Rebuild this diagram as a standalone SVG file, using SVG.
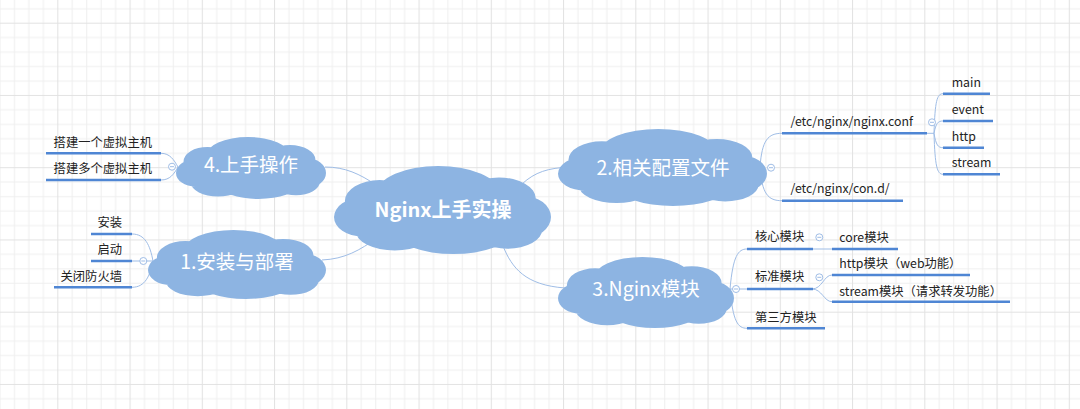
<svg xmlns="http://www.w3.org/2000/svg" xmlns:xlink="http://www.w3.org/1999/xlink" width="1080" height="409" viewBox="0 0 1080 409">
<style>
.cloud{fill:#8db4e2}
.ct{font-family:"Noto Sans CJK SC","Noto Sans",sans-serif;fill:#fff;font-size:19.5px;text-anchor:middle}
.cb{font-family:"Noto Sans CJK SC","Noto Sans",sans-serif;fill:#fff;font-size:20px;font-weight:bold;text-anchor:middle}
.t{font-family:"Noto Sans CJK SC","Noto Sans",sans-serif;font-size:12.3px;fill:#222}
.r{text-anchor:end}
.ul{stroke:#4f86d4;stroke-width:2.5;fill:none}
.cn{stroke:#9fbde6;stroke-width:1;fill:none}
.col{fill:#fff;stroke:#9fbde6;stroke-width:1}
.mn{stroke:#9fbde6;stroke-width:1}
</style>
<defs>
<pattern id="grid" x="57.3" y="22.7" width="72.25" height="72.25" patternUnits="userSpaceOnUse">
<rect width="72.25" height="72.25" fill="#fff"/>
<path d="M14.95 0V72.25M29.4 0V72.25M43.85 0V72.25M58.3 0V72.25M0 14.95H72.25M0 29.4H72.25M0 43.85H72.25M0 58.3H72.25" stroke="#efefef" stroke-width="1"/>
<path d="M0.5 0V72.25M0 0.5H72.25" stroke="#e2e2e2" stroke-width="1"/>
</pattern>
<path id="cloudshape" d="M8,55 a42,30 0 1 0 84,0 a42,30 0 1 0 -84,0Z M20,30 a28,30 0 1 0 56,0 a28,30 0 1 0 -56,0Z M5,40 a16,24 0 1 0 32,0 a16,24 0 1 0 -32,0Z M59,37 a17,24 0 1 0 34,0 a17,24 0 1 0 -34,0Z M0,58 a13,22 0 1 0 26,0 a13,22 0 1 0 -26,0Z M74,58 a13,24 0 1 0 26,0 a13,24 0 1 0 -26,0Z M10,74 a18,22 0 1 0 36,0 a18,22 0 1 0 -36,0Z M29,76 a26,24 0 1 0 52,0 a26,24 0 1 0 -52,0Z M64,72 a16,22 0 1 0 32,0 a16,22 0 1 0 -32,0Z"/>
</defs>
<rect width="1080" height="409" fill="url(#grid)"/>

<g id="connectors">
<path class="cn" d="M325,167 C345,167 360,174 376,185"/>
<path class="cn" d="M322,260 C345,259 360,250 377,238"/>
<path class="cn" d="M522,184 C535,172 548,168 570,167"/>
<path class="cn" d="M503,246 C512,268 525,285 565,288"/>
<path class="cn" d="M161,153.3 C170,153.3 174,160 178,167"/>
<path class="cn" d="M161,180 C170,180 174,174 178,167"/>
<path class="cn" d="M132,234 C145,234 150,245 153,261"/>
<path class="cn" d="M132,261 L153,261"/>
<path class="cn" d="M132,287.3 C145,287.3 150,276 153,261"/>
<path class="cn" d="M760,167 C762,140 768,133.3 782,133.3"/>
<path class="cn" d="M760,167 C762,194 768,200.7 782,200.7"/>
<path class="cn" d="M926,133.3 L934,133.3"/>
<path class="cn" d="M934,133.3 C935,101 937,93.7 943,93.7"/>
<path class="cn" d="M934,133.3 C936,123 938,121 943,121"/>
<path class="cn" d="M934,133.3 C936,145 938,147.7 943,147.7"/>
<path class="cn" d="M934,133.3 C935,166 937,174.3 943,174.3"/>
<path class="cn" d="M730,289 C733,256 738,249 747,249"/>
<path class="cn" d="M730,289 L747,289"/>
<path class="cn" d="M730,289 C733,322 738,328.3 747,328.3"/>
<path class="cn" d="M812,249 L833,249"/>
<path class="cn" d="M812,289 C822,289 824,275 832,275"/>
<path class="cn" d="M812,289 C822,289 824,301.7 832,301.7"/>
</g>

<g id="center">
<use xlink:href="#cloudshape" class="cloud" transform="translate(334,166) scale(2.17,0.88)"/>
<text class="cb" x="443" y="217">Nginx上手实操</text>
</g>

<g id="n4">
<use xlink:href="#cloudshape" class="cloud" transform="translate(176,137) scale(1.5,0.62)"/>
<text class="ct" x="251" y="172">4.上手操作</text>
<circle class="col" cx="172" cy="166.7" r="3.5"/>
<path class="mn" d="M170,166.7H174"/>
</g>
<g id="n4a">
<path class="ul" d="M46,153.3H161"/>
<text class="t r" x="152" y="146.5">搭建一个虚拟主机</text>
</g>
<g id="n4b">
<path class="ul" d="M46,180H161"/>
<text class="t r" x="152" y="172.8">搭建多个虚拟主机</text>
</g>

<g id="n1">
<use xlink:href="#cloudshape" class="cloud" transform="translate(148,230) scale(1.78,0.69)"/>
<text class="ct" x="237" y="268.5">1.安装与部署</text>
<circle class="col" cx="143.3" cy="261" r="3.5"/>
<path class="mn" d="M141.3,261H145.3"/>
</g>
<g id="n1a">
<path class="ul" d="M91,234H132"/>
<text class="t r" x="122" y="227">安装</text>
</g>
<g id="n1b">
<path class="ul" d="M91,261H132"/>
<text class="t r" x="122" y="253.5">启动</text>
</g>
<g id="n1c">
<path class="ul" d="M54,287.3H132"/>
<text class="t r" x="122" y="280.5">关闭防火墙</text>
</g>

<g id="n2">
<use xlink:href="#cloudshape" class="cloud" transform="translate(558,129) scale(2.09,0.77)"/>
<text class="ct" x="663" y="175">2.相关配置文件</text>
<circle class="col" cx="771" cy="167.7" r="3.5"/>
<path class="mn" d="M769,167.7H773"/>
</g>
<g id="n2a">
<path class="ul" d="M782,133.3H927"/>
<text class="t" x="790.5" y="126">/etc/nginx/nginx.conf</text>
<circle class="col" cx="932" cy="122.3" r="3.5"/>
<path class="mn" d="M930,122.3H934"/>
</g>
<g id="n2b">
<path class="ul" d="M782,200.7H903"/>
<text class="t" x="790.5" y="192.5">/etc/nginx/con.d/</text>
</g>
<g id="n2a1">
<path class="ul" d="M943,93.7H990"/>
<text class="t" x="951.7" y="87">main</text>
</g>
<g id="n2a2">
<path class="ul" d="M943,121H993"/>
<text class="t" x="951.7" y="113.8">event</text>
</g>
<g id="n2a3">
<path class="ul" d="M943,147.7H984"/>
<text class="t" x="951.7" y="140.5">http</text>
</g>
<g id="n2a4">
<path class="ul" d="M943,174.3H1000"/>
<text class="t" x="951.7" y="167">stream</text>
</g>

<g id="n3">
<use xlink:href="#cloudshape" class="cloud" transform="translate(558,257) scale(1.76,0.71)"/>
<text class="ct" x="646" y="296">3.Nginx模块</text>
<circle class="col" cx="736" cy="289" r="3.5"/>
<path class="mn" d="M734,289H738"/>
</g>
<g id="n3a">
<path class="ul" d="M747,249H813"/>
<text class="t" x="755" y="241">核心模块</text>
<circle class="col" cx="819.3" cy="237.3" r="3.5"/>
<path class="mn" d="M817.3,237.3H821.3"/>
</g>
<g id="n3a1">
<path class="ul" d="M832,249H898"/>
<text class="t" x="839.3" y="241.8">core模块</text>
</g>
<g id="n3b">
<path class="ul" d="M747,289H813"/>
<text class="t" x="755" y="281">标准模块</text>
<circle class="col" cx="819.3" cy="277.3" r="3.5"/>
<path class="mn" d="M817.3,277.3H821.3"/>
</g>
<g id="n3b1">
<path class="ul" d="M832,275H970"/>
<text class="t" x="839.3" y="267.8">http模块（web功能）</text>
</g>
<g id="n3b2">
<path class="ul" d="M832,301.7H1010"/>
<text class="t" x="839.3" y="295.5">stream模块（请求转发功能）</text>
</g>
<g id="n3c">
<path class="ul" d="M747,328.3H825"/>
<text class="t" x="755" y="321.8">第三方模块</text>
</g>
</svg>
